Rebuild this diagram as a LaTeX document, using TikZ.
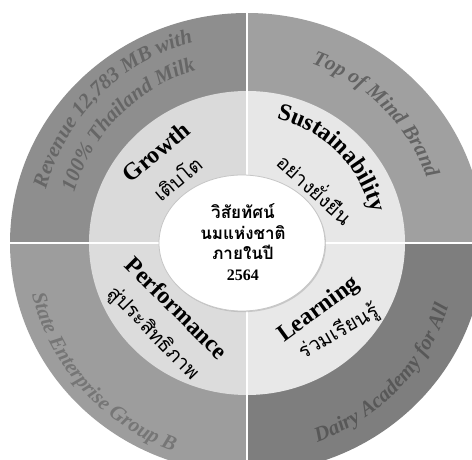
\documentclass[tikz,border=0pt]{standalone}
\usepackage{fontspec}
\setmainfont{Liberation Serif}
\newfontfamily\thaifont[Script=Thai]{Loma}
\usetikzlibrary{decorations.text,shadows}
\definecolor{oTL}{HTML}{8E8E8E}
\definecolor{oTR}{HTML}{A0A0A0}
\definecolor{oBL}{HTML}{9D9D9D}
\definecolor{oBR}{HTML}{7E7E7E}
\definecolor{iTL}{HTML}{DADADA}
\definecolor{iTR}{HTML}{E7E7E7}
\definecolor{iBL}{HTML}{DCDCDC}
\definecolor{iBR}{HTML}{E8E8E8}
\newcommand\ofont{\fontsize{21}{21}\selectfont\bfseries\itshape}
\newcommand\ifont{\fontsize{24}{24}\selectfont\bfseries}
\newcommand\tfont{\thaifont\fontsize{20}{20}\selectfont}
% #1 text, #2 radius, #3 start angle, #4 end angle, #5 colour
\newcommand\arctext[5]{%
  \path[decorate,decoration={text along path,text={|\ofont|#1},text align=center,text color=#5}]
    (#3:#2pt) arc[start angle=#3,end angle=#4,radius=#2pt];}
\tikzset{
  lab/.style={font=\ifont, inner sep=0pt},
  thlab/.style={font=\tfont, inner sep=0pt},
  gap/.style={white, line width=2.6pt},
}
\begin{document}
\begin{tikzpicture}[x=1pt,y=1pt]
\useasboundingbox (-247,-217) rectangle (225,243);
\clip (-247,-217) rectangle (225,243);
\fill[white] (-247,-217) rectangle (225,243);
% outer ring sectors
\fill[oTL] (0,0) -- (-237,0) arc[start angle=180,end angle=90,x radius=237pt,y radius=230pt] -- cycle;
\fill[oTR] (0,0) -- (0,230) arc[start angle=90,end angle=0,x radius=237pt,y radius=230pt] -- cycle;
\fill[oBL] (0,0) -- (-237,0) arc[start angle=180,end angle=270,x radius=237pt,y radius=230pt] -- cycle;
\fill[oBR] (0,0) -- (0,-230) arc[start angle=270,end angle=360,x radius=237pt,y radius=230pt] -- cycle;
% inner ring sectors
\fill[iTL] (0,0) -- (-158,0) arc[start angle=180,end angle=90,x radius=158pt,y radius=152pt] -- cycle;
\fill[iTR] (0,0) -- (0,152) arc[start angle=90,end angle=0,x radius=158pt,y radius=152pt] -- cycle;
\fill[iBL] (0,0) -- (-158,0) arc[start angle=180,end angle=270,x radius=158pt,y radius=152pt] -- cycle;
\fill[iBR] (0,0) -- (0,-152) arc[start angle=270,end angle=360,x radius=158pt,y radius=152pt] -- cycle;
% gaps
\coordinate (gN) at (0,245); \coordinate (gS) at (0,-245);
\coordinate (gW) at (-250,0); \coordinate (gE) at (250,0);
\draw[gap] (gN) -- (gS);
\draw[gap] (gW) -- (gE);
% centre
\fill[white, draw=gray!45, line width=0.8pt, drop shadow={shadow xshift=1pt,shadow yshift=-1.2pt,opacity=0.3}]
  (-5,0) ellipse[x radius=83pt, y radius=68pt];
\node[align=center, inner sep=0pt, font=\thaifont\bfseries\fontsize{17}{20.5}\selectfont] (centre) at (-4,1)
  {วิสัยทัศน์\\นมแห่งชาติ\\ภายในปี\\{\rmfamily\bfseries\fontsize{16}{20.5}\selectfont 2564}};
% outer texts
\arctext{Revenue 12,783 MB with}{208}{180}{90}{oTL!72!black}
\arctext{100{\%} Thailand Milk}{180}{180}{90}{oTL!72!black}
\arctext{Top of Mind Brand}{191}{90}{0}{oTR!62!black}
\arctext{State Enterprise Group B}{221}{177}{267}{oBL!75!black}
\arctext{Dairy Academy for All}{211}{271}{361}{oBR!70!black}
% inner labels
\node[lab, rotate=40] (growth) at (-91,91) {Growth};
\node[thlab, rotate=40] (growthth) at (-70,65) {เติบโต};
\path[decorate,decoration={text along path,text={|\ifont|Sustainability},text align=center}]
  (85:128pt) arc[start angle=85,end angle=5,radius=128pt];
\node[thlab, rotate=-42] (sustth) at (69,55) {อย่างยั่งยืน};
\node[lab, rotate=-45] (perf) at (-70,-65) {Performance};
\node[thlab, rotate=-46] (perfth) at (-94,-91) {สู่ประสิทธิภาพ};
\node[lab, rotate=36] (learn) at (72,-67) {Learning};
\node[thlab, rotate=30] (learnth) at (92,-89) {ร่วมเรียนรู้};
\end{tikzpicture}
\end{document}
